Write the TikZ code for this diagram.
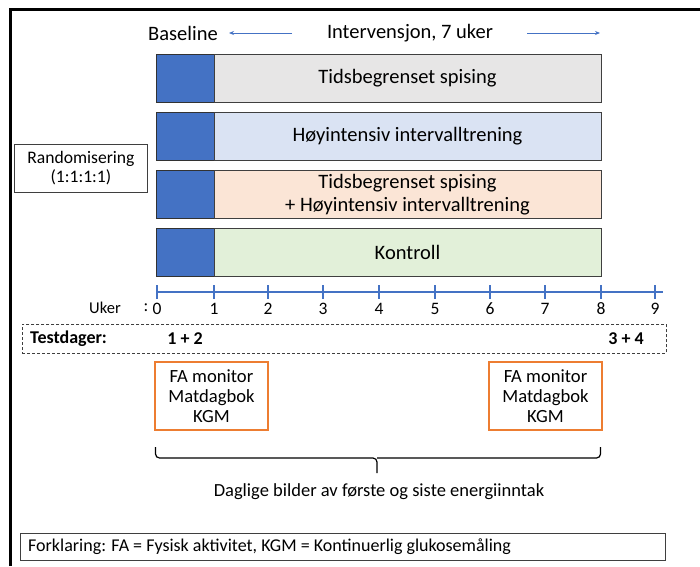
\documentclass[tikz,border=0pt]{standalone}
\usepackage{fontspec}
\setmainfont{Carlito}
\usetikzlibrary{arrows.meta}
\definecolor{bblue}{HTML}{4472C4}
\definecolor{cgray}{HTML}{E7E6E6}
\definecolor{cblue}{HTML}{DAE3F3}
\definecolor{cpeach}{HTML}{FBE5D6}
\definecolor{cgreen}{HTML}{E2F0D9}
\definecolor{corange}{HTML}{ED7D31}
\definecolor{edge}{HTML}{3F3F3F}
\begin{document}
\begin{tikzpicture}[x=1pt,y=-1pt,
  bar/.style={draw=edge, line width=1pt, inner sep=0pt, outer sep=0pt, anchor=north west, minimum height=48pt, align=center, font=\fontsize{20.5}{23}\selectfont},
  basebox/.style={bar, fill=bblue, draw=edge!80!black, minimum width=58pt},
  armbox/.style={bar, minimum width=387pt},
  lbl/.style={inner sep=0pt, font=\fontsize{17.5}{20}\selectfont},
  tick/.style={draw=bblue, line width=1.3pt},
  obox/.style={draw=corange, line width=2pt, inner sep=0pt, outer sep=0pt, anchor=north west, minimum width=113pt, minimum height=68pt, align=center, font=\fontsize{18.6}{20}\selectfont},
  hdr/.style={inner sep=0pt, font=\fontsize{20.5}{23}\selectfont},
  harrow/.style={draw=bblue, line width=0.9pt, -{Stealth[length=5pt,width=4pt]}}
]
\useasboundingbox (0,0) rectangle (700,566);
\fill[white] (0,0) rectangle (700,566);
% outer frame
\draw[line width=3pt] (10,566) -- (10,9) -- (700,9);

% header
\node[hdr] (baseline) at (183,33) {Baseline};
\node[hdr] (interv) at (410,33) {Intervensjon, 7 uker};
\coordinate (la1) at (292,33);
\coordinate (la2) at (229,33);
\coordinate (ra1) at (527,33);
\coordinate (ra2) at (600,33);
\draw[harrow] (la1) -- (la2);
\draw[harrow] (ra1) -- (ra2);

% arms
\node[basebox] (b1) at (156,54) {};
\node[armbox, fill=cgray] (a1) at (214,54) {Tidsbegrenset spising};
\node[basebox] (b2) at (156,112.5) {};
\node[armbox, fill=cblue] (a2) at (214,112.5) {Høyintensiv intervalltrening};
\node[basebox] (b3) at (156,170.5) {};
\node[armbox, fill=cpeach] (a3) at (214,170.5) {Tidsbegrenset spising\\+ Høyintensiv intervalltrening};
\node[basebox] (b4) at (156,228.5) {};
\node[armbox, fill=cgreen] (a4) at (214,228.5) {Kontroll};

% randomisering
\node[draw=edge, line width=0.8pt, inner sep=0pt, minimum width=133pt, minimum height=48pt, align=center, anchor=north west, font=\fontsize{17.6}{19}\selectfont] (rand) at (14,144) {Randomisering\\(1:1:1:1)};

% axis
\draw[tick] (157,292) -- (663,292);
\foreach \i/\xx in {0/157,1/214,2/268,3/323,4/379,5/435,6/490,7/545,8/601,9/655}{
  \draw[tick] (\xx,285) -- (\xx,299);
  \node[lbl] (t\i) at (\xx,309) {\i};
}
\node[lbl, font=\fontsize{16.5}{19}\selectfont] (uker) at (105,308) {Uker};
\node[lbl] (colon) at (146,308) {:};

% testdager
\node[draw=edge, dash pattern=on 3pt off 2pt, line width=0.8pt, inner sep=0pt, minimum width=644pt, minimum height=29pt, anchor=north west] (test) at (22,324) {};
\node[lbl, font=\fontsize{18}{20}\selectfont\bfseries, anchor=west] (testlbl) at (30,338.5) {Testdager:};
\node[lbl, font=\fontsize{18}{20}\selectfont\bfseries] (d12) at (185,338.5) {1 + 2};
\node[lbl, font=\fontsize{18}{20}\selectfont\bfseries] (d34) at (626,338.5) {3 + 4};

% orange boxes
\node[obox] (o1) at (155,362) {FA monitor\\Matdagbok\\KGM};
\node[obox] (o2) at (489,362) {FA monitor\\Matdagbok\\KGM};

% brace
\draw[line width=1.2pt, rounded corners=4pt] (155.5,447) -- (155.5,458) -- (377,458) -- (377,473);
\draw[line width=1.2pt, rounded corners=4pt] (600.5,447) -- (600.5,458) -- (377,458);

\node[lbl, font=\fontsize{18.5}{20}\selectfont] (daglige) at (379,492) {Daglige bilder av første og siste energiinntak};

% forklaring
\node[draw=edge, line width=0.8pt, inner sep=0pt, minimum width=645pt, minimum height=27pt, anchor=north west] (fork) at (20,533) {};
\node[lbl, font=\fontsize{18}{20}\selectfont, anchor=west] (forktxt) at (28,547) {Forklaring: FA = Fysisk aktivitet, KGM = Kontinuerlig glukosemåling};
\end{tikzpicture}
\end{document}
